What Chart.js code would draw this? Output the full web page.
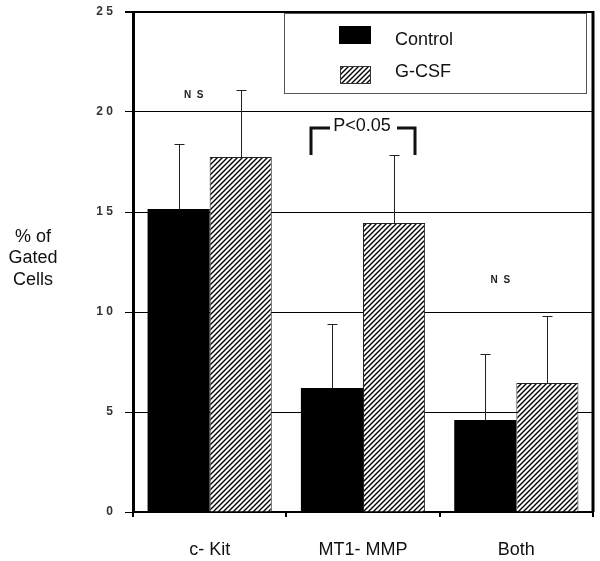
<!DOCTYPE html>
<html>
<head>
<meta charset="utf-8">
<script src="https://cdn.jsdelivr.net/npm/chart.js@4.4.1/dist/chart.umd.min.js"></script>
<style>
  html, body { margin: 0; padding: 0; background: #fff; }
  canvas { display: block; }
</style>
</head>
<body>
<canvas id="cells" width="600" height="561"></canvas>
<script>
const categories = ['c- Kit', 'MT1- MMP', 'Both'];
const seriesNames = ['Control', 'G-CSF'];
const controlValues = [15.15, 6.2, 4.6];
const gcsfValues = [17.75, 14.45, 6.45];
const controlErrors = [3.25, 3.2, 3.3];
const gcsfErrors = [3.35, 3.4, 3.35];
const yTicks = [0, 5, 10, 15, 20, 25];
const axisTitle = ['% of', 'Gated', 'Cells'];
// significance notes: [category index, y value]
const nsMarks = [[0, 20.85], [2, 11.6]];
const pNote = { text: 'P<0.05', category: 1, top: 19.2, bottom: 17.85 };

function hatch() {
    const s = 5;
    const c = document.createElement('canvas');
    c.width = s; c.height = s;
    const g = c.getContext('2d');
    g.fillStyle = '#fff';
    g.fillRect(0, 0, s, s);
    g.strokeStyle = '#000';
    g.lineWidth = 1.4;
    g.beginPath();
    g.moveTo(0, s); g.lineTo(s, 0);
    g.moveTo(-1, 1); g.lineTo(1, -1);
    g.moveTo(s - 1, s + 1); g.lineTo(s + 1, s - 1);
    g.stroke();
    return g.createPattern(c, 'repeat');
}

const ctx = document.getElementById('cells').getContext('2d');
const hatchFill = hatch();

const extras = {
    id: 'extras',
    afterDatasetsDraw(chart) {
        const g = chart.ctx;
        const a = chart.chartArea;
        const x = chart.scales.x, y = chart.scales.y;
        g.save();

        // error bars (upper only)
        const errs = [controlErrors, gcsfErrors];
        chart.data.datasets.forEach((ds, d) => {
            const meta = chart.getDatasetMeta(d);
            meta.data.forEach((bar, i) => {
                const y0 = y.getPixelForValue(ds.data[i]);
                const y1 = y.getPixelForValue(ds.data[i] + errs[d][i]);
                const bx = Math.round(bar.x) + 0.5;
                g.strokeStyle = '#222';
                g.lineWidth = 1;
                g.beginPath();
                g.moveTo(bx, y0); g.lineTo(bx, y1);
                g.moveTo(bx - 5, Math.round(y1) + 0.5); g.lineTo(bx + 5, Math.round(y1) + 0.5);
                g.stroke();
            });
        });

        // right frame
        g.strokeStyle = '#000';
        g.lineWidth = 3;
        g.beginPath();
        g.moveTo(a.right, a.top - 1); g.lineTo(a.right, a.bottom);
        g.stroke();

        // legend box
        g.fillStyle = '#fff';
        g.fillRect(284, 14, 303, 80);
        g.strokeStyle = '#555';
        g.lineWidth = 1;
        g.strokeRect(284.5, 13.5, 302, 80);
        g.fillStyle = '#000';
        g.fillRect(339, 26, 32, 18);
        g.fillStyle = hatchFill;
        g.fillRect(340, 66, 31, 18);
        g.strokeStyle = '#333';
        g.strokeRect(340.5, 66.5, 30, 17);
        g.fillStyle = '#111';
        g.font = '18px Arial, "Liberation Sans", sans-serif';
        g.textAlign = 'left';
        g.textBaseline = 'middle';
        g.fillText(seriesNames[0], 395, 40);
        g.fillText(seriesNames[1], 395, 72);

        // N S notes
        g.font = 'bold 10px Arial, "Liberation Sans", sans-serif';
        g.textAlign = 'center';
        g.fillStyle = '#222';
        nsMarks.forEach(([c, v]) => {
            g.fillText('N  S', x.getPixelForValue(c) - 16, y.getPixelForValue(v));
        });

        // P<0.05 bracket
        const cx = x.getPixelForValue(pNote.category);
        const yt = y.getPixelForValue(pNote.top);
        const yb = y.getPixelForValue(pNote.bottom);
        g.strokeStyle = '#111';
        g.lineWidth = 3;
        g.beginPath();
        g.moveTo(cx - 52, yb); g.lineTo(cx - 52, yt); g.lineTo(cx - 33, yt);
        g.moveTo(cx + 34, yt); g.lineTo(cx + 52, yt); g.lineTo(cx + 52, yb);
        g.stroke();
        g.font = '18px Arial, "Liberation Sans", sans-serif';
        g.fillStyle = '#111';
        g.fillText(pNote.text, cx - 1, yt - 2);

        // y axis title
        g.font = '18px Arial, "Liberation Sans", sans-serif';
        axisTitle.forEach((t, i) => g.fillText(t, 33, 237 + i * 21.5));
        g.restore();
    }
};

new Chart(ctx, {
    type: 'bar',
    data: {
        labels: categories,
        datasets: [
            { label: seriesNames[0], data: controlValues, backgroundColor: '#000', borderColor: '#000', borderWidth: 0 },
            { label: seriesNames[1], data: gcsfValues, backgroundColor: hatchFill, borderColor: '#222', borderWidth: 1 }
        ]
    },
    options: {
        responsive: false,
        animation: false,
        events: [],
        layout: { padding: { left: 0, top: 12, right: 7, bottom: 0 } },
        categoryPercentage: 0.81,
        barPercentage: 1.0,
        plugins: { legend: { display: false }, tooltip: { enabled: false } },
        scales: {
            x: {
                grid: { offset: true, drawOnChartArea: false, drawTicks: true, tickLength: 5, color: '#000', lineWidth: 2 },
                border: { color: '#000', width: 2 },
                ticks: { color: '#111', font: { family: 'Arial, "Liberation Sans", sans-serif', size: 18 }, padding: 22, maxRotation: 0 },
                afterFit(s) { s.height = 49; }
            },
            y: {
                min: 0, max: 25,
                afterBuildTicks(s) { s.ticks = yTicks.map(v => ({ value: v })); },
                grid: {
                    color: '#000',
                    lineWidth: c => (c.tick && c.tick.value === 25 ? 2 : 1),
                    tickLength: 8
                },
                border: { color: '#000', width: 3 },
                ticks: {
                    color: '#333',
                    font: { family: 'Arial, "Liberation Sans", sans-serif', size: 12, weight: 'bold' },
                    padding: 12,
                    callback: v => String(v).split('').join(' ')
                },
                afterFit(s) { s.width = 133; s.paddingTop = 0; s.paddingBottom = 0; }
            }
        }
    },
    plugins: [extras]
});
</script>
</body>
</html>
